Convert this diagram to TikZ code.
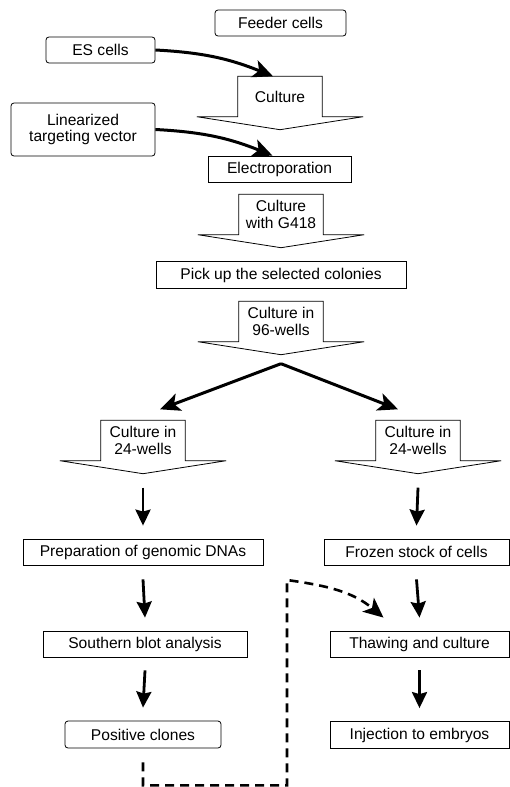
\documentclass[tikz,border=0pt]{standalone}
\usepackage{fontspec}
\setmainfont{Liberation Sans}
\usetikzlibrary{arrows.meta,calc}

% outline of a wide block arrow round a text node
\newcommand\drawblock[1]{%
  \draw[line width=0.8pt] ([xshift=-41pt]#1.south west) -- (#1.south west) -- (#1.north west)
    -- (#1.north east) -- (#1.south east) -- ([xshift=41pt]#1.south east)
    -- ([yshift=-13pt]#1.south) -- cycle;}

\begin{document}
\begin{tikzpicture}
	[x=1pt,y=-1pt,
	every node/.style={font=\fontsize{15.6}{17}\selectfont},
	box/.style={draw,line width=0.8pt,minimum height=26pt,inner sep=0pt},
	rbox/.style={box,rounded corners=3pt},
	blk/.style={minimum width=84pt,minimum height=40pt,inner sep=0pt,align=center},
	bigarr/.style={line width=3pt,-{Stealth[length=20pt,width=18pt,inset=5pt]}},
	downarr/.style={line width=2.8pt,-{Stealth[length=16pt,width=15pt,inset=2pt]}},
	dasharr/.style={line width=2.6pt,dash pattern=on 9pt off 6pt,
		-{Stealth[length=20pt,width=18pt,inset=5pt]}}]
	\useasboundingbox (0,0) rectangle (510,787);

	% top part
	\node[rbox,minimum width=131pt] (feeder) at (280.5,23) {Feeder cells};
	\node[rbox,minimum width=109pt] (es) at (100.5,50) {ES cells};
	\node[rbox,minimum width=144pt,minimum height=53pt,align=center] (lin) at (83,129.5)
		{Linearized\\[-1pt]targeting vector};
	\node[blk] (cult) at (280,96.5) {Culture};
	\drawblock{cult}
	\node[box,minimum width=143pt] (elec) at (279.5,169) {Electroporation};
	\node[blk] (g418) at (281,214.5) {Culture\\with G418};
	\drawblock{g418}
	\node[box,minimum width=250pt,minimum height=27pt] (pick) at (281,275)
		{Pick up the selected colonies};
	\node[blk] (c96) at (281,321.5) {Culture in\\96-wells};
	\drawblock{c96}

	\draw[bigarr] (es.east) to[out=-3,in=158] ([xshift=-7pt]cult.north);
	\draw[bigarr] (lin.east) to[out=-3,in=158] ([xshift=-7pt]elec.north);

	% two branches
	\node[blk] (c24l) at (143,440.5) {Culture in\\24-wells};
	\drawblock{c24l}
	\node[blk] (c24r) at (418,440.5) {Culture in\\24-wells};
	\drawblock{c24r}
	\coordinate (split) at ([yshift=-22pt]c96.south);
	\draw[bigarr] (split) -- ([xshift=17pt,yshift=11pt]c24l.north);
	\draw[bigarr] (split) -- ([xshift=-20pt,yshift=11pt]c24r.north);

	\node[box,minimum width=240pt] (prep) at (143,552) {Preparation of genomic DNAs};
	\node[box,minimum width=204pt] (south) at (145,644) {Southern blot analysis};
	\node[rbox,minimum width=156pt,minimum height=27pt] (pos) at (143,734.5) {Positive clones};
	\node[box,minimum width=185pt] (frozen) at (416.5,552) {Frozen stock of cells};
	\node[box,minimum width=179pt] (thaw) at (419.5,644) {Thawing and culture};
	\node[box,minimum width=179pt,minimum height=27pt] (inj) at (419.5,735) {Injection to embryos};

	\draw[downarr] ([yshift=-27pt]c24l.south) -- ([yshift=13pt]prep.north);
	\draw[downarr] ([yshift=-27pt]c24r.south) -- ([yshift=13pt]frozen.north);
	\draw[downarr] ([yshift=-14pt]prep.south) -- ([yshift=13pt]south.north);
	\draw[downarr] ([yshift=-13pt]south.south) -- ([yshift=13pt]pos.north);
	\draw[downarr] ([yshift=-14pt]frozen.south) -- ([yshift=13pt]thaw.north);
	\draw[downarr] ([yshift=-13pt]thaw.south) -- ([yshift=13pt]inj.north);

	% dashed return path
	\coordinate (bend) at (287,580);
	\draw[dasharr] ([yshift=-14pt]pos.south) -- ++(0,23) -| (bend)
		to[out=-8,in=140] ([xshift=-36pt,yshift=13pt]thaw.north);
\end{tikzpicture}
\end{document}
